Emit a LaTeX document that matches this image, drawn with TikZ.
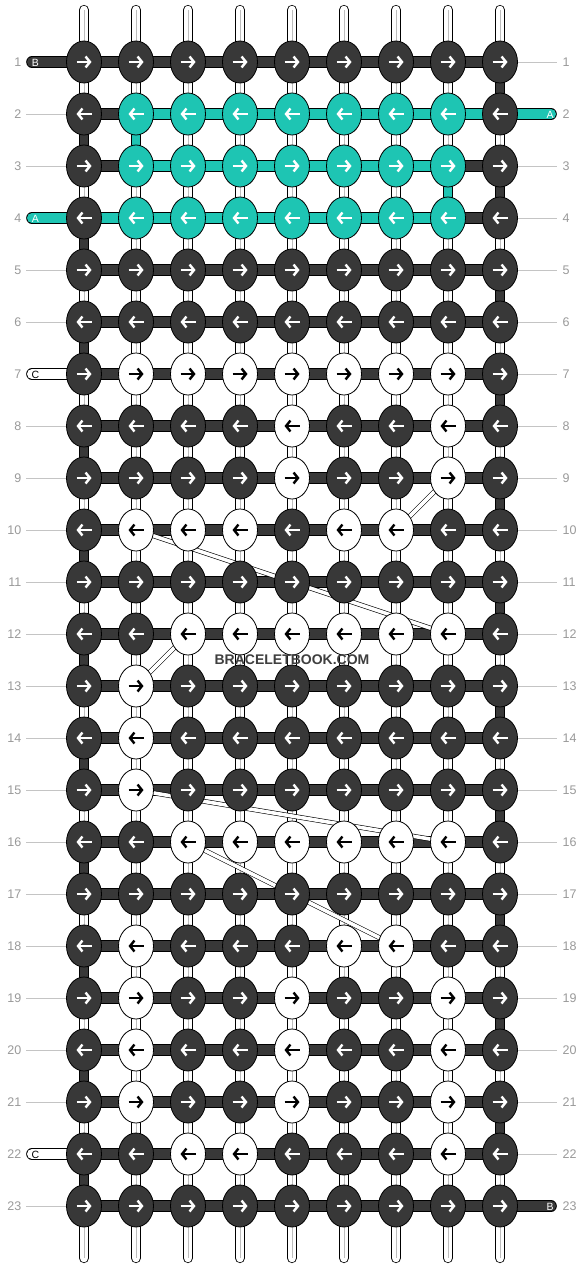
\documentclass[tikz,border=0pt]{standalone}
\usepackage{fontspec}
\setmainfont{Liberation Sans}
\usetikzlibrary{shapes.geometric,arrows.meta}
\definecolor{kd}{HTML}{383838}
\definecolor{kt}{HTML}{1EC5B3}
\definecolor{lblgray}{HTML}{9A9A9A}
\definecolor{guidegray}{HTML}{C4C4C4}
\definecolor{coregray}{HTML}{BDBDBD}
\definecolor{wmark}{HTML}{3F3F3F}
\begin{document}
\begin{tikzpicture}[x=1pt,y=-1pt,
  knotbase/.style={ellipse, draw=black, line width=0.8pt, minimum width=35pt, minimum height=42pt, inner sep=0pt},
  knotD/.style={knotbase, fill=kd},
  knotT/.style={knotbase, fill=kt},
  knotW/.style={knotbase, fill=white},
  arrD/.style={draw=white},
  arrT/.style={draw=white},
  arrW/.style={draw=black},
  arrowglyph/.style={line width=2.4pt, -{Straight Barb[length=4.4pt,width=11pt]}},
  hbar/.style={draw=black, line width=0.8pt, double distance=10pt},
  vstring/.style={draw=black, line width=0.8pt, double=white, double distance=8.6pt, line cap=round},
  vcore/.style={draw=coregray, line width=1pt},
  vseg/.style={draw=black, line width=0.8pt, double distance=8.6pt},
  endstring/.style={draw=black, line width=0.8pt, double distance=10pt, line cap=round},
  strip/.style={draw=black, line width=0.6pt, double=white, double distance=3.6pt},
  guide/.style={draw=guidegray, line width=0.9pt},
  rowlbl/.style={text=lblgray, font=\fontsize{12.5pt}{14pt}\selectfont, inner sep=0pt},
  endlbl/.style={font=\fontsize{10.5pt}{12pt}\selectfont, inner sep=0pt},
]
\useasboundingbox (0,0) rectangle (584,1268);
\fill[white] (0,0) rectangle (584,1268);

% knot centres
\foreach \r in {1,...,23}{
  \foreach \i in {1,...,9}{
    \coordinate (p-\r-\i) at ({84+52*(\i-1)},{62+52*(\r-1)});
  }
}

% vertical base strings
\foreach \i in {1,...,9}{
  \coordinate (vt-\i) at ({84+52*(\i-1)},10);
  \coordinate (vb-\i) at ({84+52*(\i-1)},1258);
  \draw[vstring] (vt-\i) -- (vb-\i);
  \draw[vcore] (vt-\i) -- (vb-\i);
}

% coloured vertical segments at the edges
\foreach \r in {2,4,...,22}{
  \pgfmathtruncatemacro\rn{\r+1}
  \draw[vseg, double=kd] (p-\r-1) -- (p-\rn-1);
}
\foreach \r in {1,3,...,21}{
  \pgfmathtruncatemacro\rn{\r+1}
  \draw[vseg, double=kd] (p-\r-9) -- (p-\rn-9);
}
\draw[vseg, double=kt] (p-2-2) -- (p-3-2);
\draw[vseg, double=kt] (p-3-8) -- (p-4-8);

% horizontal bars
\foreach \r in {1,...,23}{
  \foreach \i in {1,...,8}{
    \pgfmathtruncatemacro\j{\i+1}
    \draw[hbar, double=kd] (p-\r-\i) -- (p-\r-\j);
  }
}
\foreach \i in {2,...,8}{
  \pgfmathtruncatemacro\j{\i+1}
  \draw[hbar, double=kt] (p-2-\i) -- (p-2-\j);
}
\foreach \i in {2,...,7}{
  \pgfmathtruncatemacro\j{\i+1}
  \draw[hbar, double=kt] (p-3-\i) -- (p-3-\j);
}
\foreach \i in {1,...,7}{
  \pgfmathtruncatemacro\j{\i+1}
  \draw[hbar, double=kt] (p-4-\i) -- (p-4-\j);
}

% carried strings
\draw[strip] (p-9-8) -- (p-10-7);
\draw[strip] (p-10-2) -- (p-12-8);
\draw[strip] (p-12-3) -- (p-13-2);
\draw[strip] (p-15-2) -- (p-16-8);
\draw[strip] (p-16-3) -- (p-18-7);

% guide lines and row numbers
\foreach \r in {1,...,23}{
  \coordinate (gl-\r) at (26,{62+52*(\r-1)});
  \coordinate (gr-\r) at (557,{62+52*(\r-1)});
  \draw[guide] (gl-\r) -- (p-\r-1);
  \draw[guide] (p-\r-9) -- (gr-\r);
  \node[rowlbl, anchor=east] (ll-\r) at (21.5,{62+52*(\r-1)}) {\r};
  \node[rowlbl, anchor=west] (rl-\r) at (562.5,{62+52*(\r-1)}) {\r};
}

% loose string ends
\coordinate (eB1) at (32,62);
\coordinate (eA4) at (32,218);
\coordinate (eC7) at (32,374);
\coordinate (eC22) at (32,1154);
\coordinate (eA2) at (551,114);
\coordinate (eB23) at (551,1206);
\draw[endstring, double=kd] (eB1) -- (p-1-1);
\draw[endstring, double=kt] (eA4) -- (p-4-1);
\draw[endstring, double=white] (eC7) -- (p-7-1);
\draw[endstring, double=white] (eC22) -- (p-22-1);
\draw[endstring, double=kt] (p-2-9) -- (eA2);
\draw[endstring, double=kd] (p-23-9) -- (eB23);
\node[endlbl, text=white] (tB1) at (35.5,62.5) {B};
\node[endlbl, text=white] (tA4) at (35.5,218.5) {A};
\node[endlbl, text=black] (tC7) at (35.5,374.5) {C};
\node[endlbl, text=black] (tC22) at (35.5,1154.5) {C};
\node[endlbl, text=white] (tA2) at (550,114.5) {A};
\node[endlbl, text=white] (tB23) at (550,1206.5) {B};

% knots
\foreach \r/\row in {
  1/{D,D,D,D,D,D,D,D,D},
  2/{D,T,T,T,T,T,T,T,D},
  3/{D,T,T,T,T,T,T,T,D},
  4/{D,T,T,T,T,T,T,T,D},
  5/{D,D,D,D,D,D,D,D,D},
  6/{D,D,D,D,D,D,D,D,D},
  7/{D,W,W,W,W,W,W,W,D},
  8/{D,D,D,D,W,D,D,W,D},
  9/{D,D,D,D,W,D,D,W,D},
  10/{D,W,W,W,D,W,W,D,D},
  11/{D,D,D,D,D,D,D,D,D},
  12/{D,D,W,W,W,W,W,W,D},
  13/{D,W,D,D,D,D,D,D,D},
  14/{D,W,D,D,D,D,D,D,D},
  15/{D,W,D,D,D,D,D,D,D},
  16/{D,D,W,W,W,W,W,W,D},
  17/{D,D,D,D,D,D,D,D,D},
  18/{D,W,D,D,D,W,W,D,D},
  19/{D,W,D,D,W,D,D,W,D},
  20/{D,W,D,D,W,D,D,W,D},
  21/{D,W,D,D,W,D,D,W,D},
  22/{D,D,W,W,D,D,D,W,D},
  23/{D,D,D,D,D,D,D,D,D}}{
  \ifodd\r \def\dir{1}\else\def\dir{-1}\fi
  \foreach \k [count=\i] in \row {
    \node[knot\k] (k-\r-\i) at (p-\r-\i) {};
    \draw[arrowglyph, arr\k] ([xshift={-7.5*\dir}]k-\r-\i.center) -- ([xshift={7.5*\dir}]k-\r-\i.center);
  }
}

% watermark
\node[text=wmark, font=\bfseries\fontsize{14pt}{16pt}\selectfont, inner sep=0pt] (wm) at (292,659.5) {BRACELETBOOK.COM};
\end{tikzpicture}
\end{document}
